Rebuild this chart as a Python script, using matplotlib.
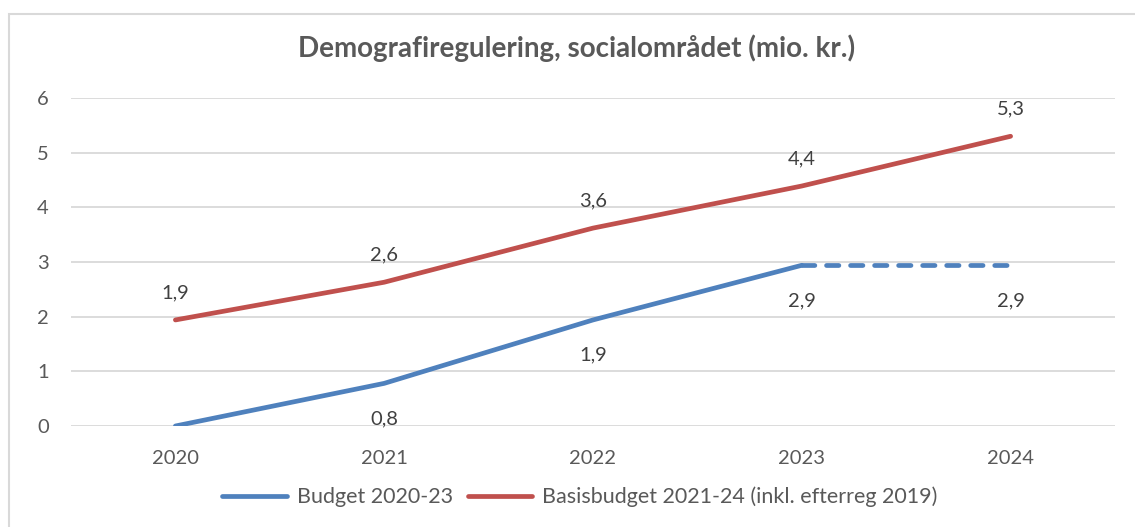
import matplotlib
matplotlib.use("Agg")
import matplotlib.pyplot as plt
from matplotlib.patches import Rectangle

plt.rcParams['font.family'] = ['Lato', 'DejaVu Sans']
plt.rcParams['lines.scale_dashes'] = False

years = ["2020", "2021", "2022", "2023", "2024"]
budget = [0.0, 0.78, 1.94, 2.94]            # Budget 2020-23 (2020..2023)
budget_proj = [2.94, 2.94]                   # dashed continuation 2023..2024
basis = [1.94, 2.63, 3.62, 4.39, 5.30]       # Basisbudget 2021-24
yticks = [0, 1, 2, 3, 4, 5, 6]

title = "Demografiregulering, socialområdet (mio. kr.)"
label_budget = "Budget 2020-23"
label_basis = "Basisbudget 2021-24 (inkl. efterreg 2019)"

BLUE = "#4f81bd"
RED = "#c0504d"
GRID = "#d9d9d9"
TXT = "#595959"
LBL = "#404040"

W, H = 1135, 527
fig = plt.figure(figsize=(W / 100, H / 100), dpi=100)
fig.patch.set_facecolor("white")
fig.add_artist(Rectangle((9 / W, 0 - 0.1), 1.2, (1 - 14 / H) + 0.1, transform=fig.transFigure,
                         fill=False, edgecolor="#d9d9d9", linewidth=1.5))

ax = fig.add_axes([71 / W, 1 - 426 / H, (1115 - 71) / W, (426 - 98) / H])
x = list(range(len(years)))
lw = 3.4
ax.plot(x[:len(budget)], budget, color=BLUE, lw=lw, solid_capstyle="round", label=label_budget, zorder=3)
ax.plot(x[len(budget) - 1:], budget_proj, color=BLUE, lw=lw, dashes=(8.9, 8.4),
        dash_capstyle="round", zorder=3)
ax.plot(x, basis, color=RED, lw=lw, solid_capstyle="round", label=label_basis, zorder=3)

fs = 14.5
def fmt(v):
    return f"{v:.1f}".replace(".", ",")

for i, v in enumerate(basis):
    ax.annotate(fmt(v), (x[i], v), xytext=(0, 19.5), textcoords="offset points",
                ha="center", va="center", fontsize=fs, color=LBL)
for i, v in enumerate(budget):
    if v == 0:
        continue
    ax.annotate(fmt(v), (x[i], v), xytext=(0, -25.5), textcoords="offset points",
                ha="center", va="center", fontsize=fs, color=LBL)
ax.annotate(fmt(budget_proj[-1]), (x[-1], budget_proj[-1]), xytext=(0, -25.5),
            textcoords="offset points", ha="center", va="center", fontsize=fs, color=LBL)

ax.set_xlim(-0.5, len(years) - 0.5)
ax.set_ylim(0, 6)
ax.set_yticks(yticks)
ax.set_yticklabels([str(t) for t in yticks])
ax.set_xticks(x)
ax.set_xticklabels(years)
ax.tick_params(axis="both", length=0, labelsize=fs, labelcolor=TXT)
ax.tick_params(axis="y", pad=16)
ax.tick_params(axis="x", pad=17)
for s in ax.spines.values():
    s.set_visible(False)
ax.grid(axis="y", color=GRID, linewidth=1.3)
ax.set_axisbelow(True)

fig.text(577 / W, 1 - 48 / H, title, ha="center", va="center", fontsize=20,
         fontweight="bold", color=TXT)

fig.legend(loc="center", bbox_to_anchor=(580 / W, 1 - 497 / H), ncol=2, frameon=False,
           fontsize=15.5, handlelength=3.0, handletextpad=0.45, columnspacing=0.7,
           labelcolor=TXT)

fig.savefig("out.png", dpi=100)
